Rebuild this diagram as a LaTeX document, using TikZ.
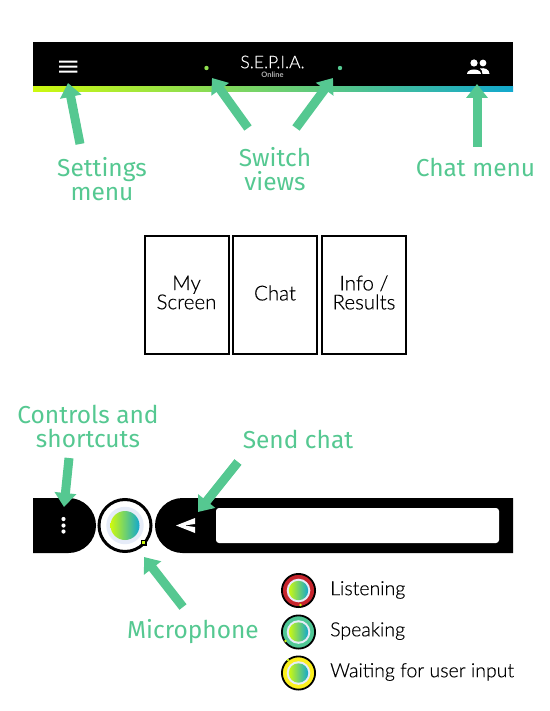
\documentclass[tikz,border=0pt]{standalone}
\usepackage{fontspec}
\setmainfont{Lato Light}[RawFeature={embolden=0.35}]
\newfontfamily\hand{Fira Sans}
\newfontfamily\boldish{Lato}
\usetikzlibrary{arrows.meta}
\definecolor{gA}{HTML}{55C891}
\definecolor{gL}{HTML}{CDF90F}
\definecolor{gR}{HTML}{12A8CE}
\definecolor{halo}{HTML}{E6ECF8}
\tikzset{
 fat/.style={draw=gA,line width=9pt,-{Triangle[length=14pt,width=21pt]},shorten >=0pt},
 greencap/.style={text=gA,font=\hand\fontsize{24.5}{24}\selectfont,align=center,inner sep=0pt},
 tile/.style={draw=black,line width=2pt,fill=white,minimum width=84pt,minimum height=118pt,inner sep=0pt},
 tiletext/.style={inner sep=0pt,font=\fontsize{20.5}{19}\selectfont,align=center},
 lab/.style={font=\fontsize{19.5}{22}\selectfont,anchor=west,inner sep=0pt},
 grad/.style={left color=gL,right color=gR,shading angle=90,draw=none},
}
\begin{document}
\begin{tikzpicture}[x=1pt,y=-1pt]
\useasboundingbox (0,0) rectangle (549,711);
% top bar
\fill[black] (33,42) rectangle (513,87);
\shade[left color=gL,right color=gR,shading angle=90] (33,87) rectangle (513,92);
\fill[white] (59,60.7) rectangle (77.3,62.7) (59,65.7) rectangle (77.3,67.7) (59,70.7) rectangle (77.3,72.7);
\fill[gA!50!gL] (206.5,68) circle (2.2);
\fill[gA] (340,68) circle (2.2);
\node[text=white,inner sep=0pt,font=\fontsize{17.5}{17}\selectfont] (title) at (272.5,62) {S.E.P.I.A.};
\node[text=black!30,inner sep=0pt,font=\boldish\fontsize{7.5}{7}\selectfont\bfseries] (online) at (272.5,75) {Online};
% people icon
\fill[white] (474,63) circle (3.6) (483,63) circle (3.4);
\fill[white] (467,74) .. controls (467,68) and (481,68) .. (481,74) -- cycle;
\fill[white] (482.5,74) .. controls (482.5,71) and (481.5,69.5) .. (480,68.5) .. controls (484,67.5) and (489.5,69) .. (489.5,74) -- cycle;
% top captions
\node[greencap] (settings) at (102,179) {Settings\\menu};
\node[greencap] (switch) at (275,169) {Switch\\views};
\node[greencap] (chatmenu) at (475.5,167) {Chat menu};
\coordinate (s0) at (80,144); \coordinate (s1) at (68,83);
\coordinate (l0) at (248,128); \coordinate (l1) at (212,78);
\coordinate (r0) at (296,128); \coordinate (r1) at (333,78);
\coordinate (c0) at (477,147); \coordinate (c1) at (477,84);
\draw[fat] (s0) -- (s1);
\draw[fat] (l0) -- (l1);
\draw[fat] (r0) -- (r1);
\draw[fat] (c0) -- (c1);
% tiles
\node[tile] (t1) at (186.5,295) {};
\node[tile] (t2) at (275,295) {};
\node[tile] (t3) at (364,295) {};
\node[tiletext] (x1) at (186.5,292.5) {My\\Screen};
\node[tiletext] (x2) at (275,293) {Chat};
\node[tiletext] (x3) at (364,292.5) {Info /\\Results};
% bottom bar
\fill[black] (33,498) -- (68.5,498) arc[start angle=-90,end angle=90,radius=27.5] -- (33,553) -- cycle;
\fill[black] (513,498) -- (182.5,498) arc[start angle=-90,end angle=-270,radius=27.5] -- (513,553) -- cycle;
\fill[white,rounded corners=3pt] (216,508) rectangle (499,543);
\fill[white] (63.5,519) circle (2.1) (63.5,525.5) circle (2.1) (63.5,531.5) circle (2.1);
\fill[white] (195,518) -- (176,525.5) -- (195,533) -- (195,527) -- (184,525.5) -- (195,524) -- cycle;
% microphone
\draw[black,line width=3pt,fill=white] (125,525.5) circle (26);
\fill[halo] (125,525.5) circle (18.7);
\shade[grad] (125,525.5) circle (14.5);
\fill[black] (140.5,539.5) rectangle (146.5,545.5);
\fill[gL] (141.8,540.8) rectangle (145.2,544.2);
% bottom captions
\node[greencap] (controls) at (88,426.5) {Controls and\\shortcuts};
\node[greencap] (sendchat) at (298,439.5) {Send chat};
\node[greencap] (micro) at (193,631.5) {Microphone};
\coordinate (k0) at (69,458); \coordinate (k1) at (64,507);
\coordinate (h0) at (238,462); \coordinate (h1) at (198,512);
\coordinate (m0) at (183,607); \coordinate (m1) at (144,557);
\draw[fat] (k0) -- (k1);
\draw[fat] (h0) -- (h1);
\draw[fat] (m0) -- (m1);
% states
\foreach \yy/\col/\dx/\dy in {590.5/C7252D/2/14.5,632/4FC795/-13/9,673/FBEF1E/-10.5/-13}{
 \definecolor{st}{HTML}{\col}
 \draw[black,line width=1.8pt,fill=st] (298.5,\yy) circle (16.6);
 \fill[halo] (298.5,\yy) circle (11.8);
 \shade[grad] (298.5,\yy) circle (9.7);
 \fill[gL] (298.5+\dx,\yy+\dy) circle (1.4);
}
\node[lab] (listen) at (330,590) {Listening};
\node[lab] (speak) at (330,631) {Speaking};
\node[lab] (wait) at (330,672) {Waiting for user input};
\end{tikzpicture}
\end{document}
